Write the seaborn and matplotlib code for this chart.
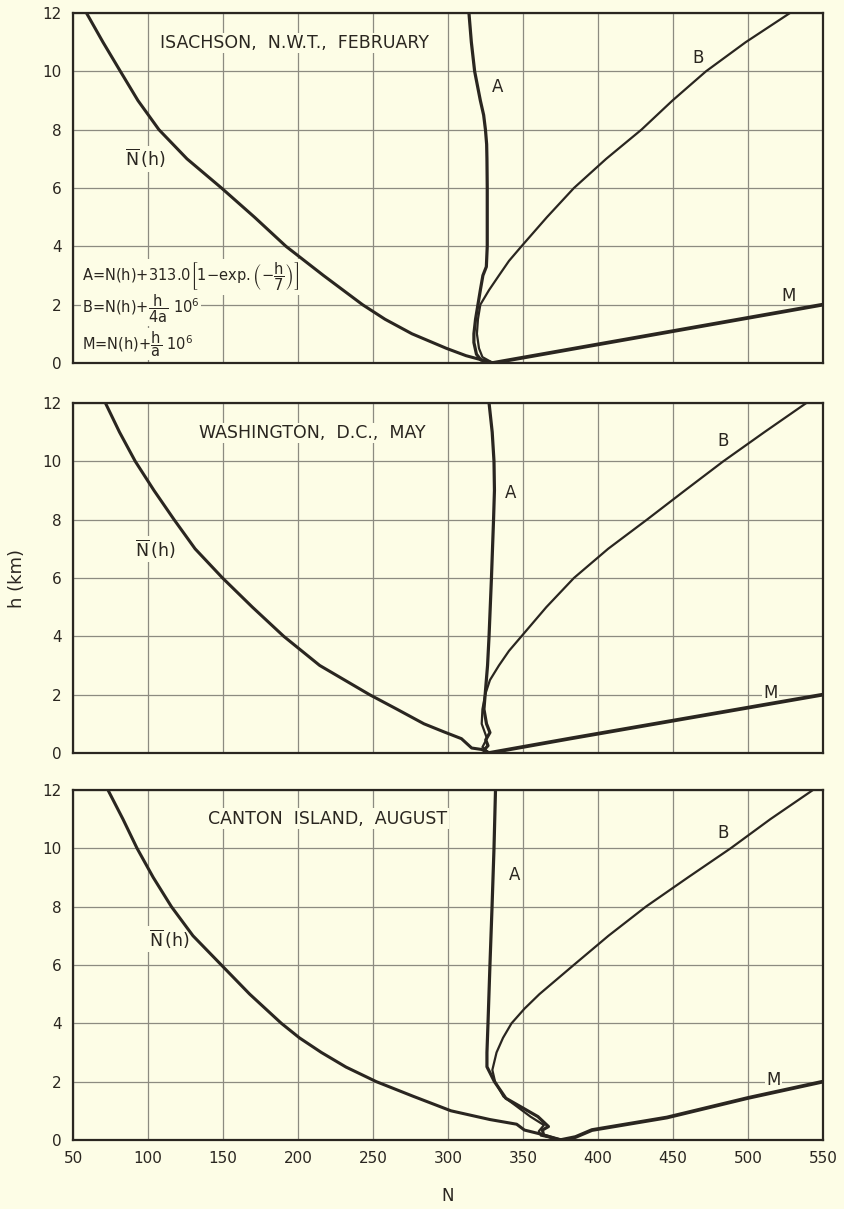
import matplotlib
matplotlib.use("Agg")
import matplotlib.pyplot as plt
import numpy as np
import pandas as pd
import seaborn as sns

# ---- refractivity profiles (N units) against height h (km) ----
# Isachson, N.W.T., February
isa_nbar_h = [0, 0.25, 0.5, 1, 1.5, 2, 3, 4, 5, 6, 7, 8, 9, 10, 11, 12]
isa_nbar_n = [330, 312, 299, 276, 258, 243, 217, 192, 171, 149, 126, 107.3, 93.3, 81.6, 70, 59]
isa_a_h = [0, 0.1, 0.3, 0.7, 1, 1.5, 2, 2.5, 3, 3.3, 4, 6, 7, 7.5, 8, 8.5, 9, 10, 11, 12]
isa_a_n = [330, 322, 319, 317.3, 317.3, 318.4, 320, 321.6, 323.3, 325.6, 326.2, 326.2, 326, 325.8,
           325, 323.8, 321.6, 317.8, 315.6, 314]
isa_b_h = [0, 0.2, 0.5, 1, 1.5, 2, 2.5, 3, 3.5, 4, 5, 6, 7, 8, 9, 10, 11, 12]
isa_b_n = [330, 323, 320.7, 319.3, 320, 321.6, 327.4, 334, 340.7, 349, 366, 384, 405.5, 429,
           449.7, 472, 498.5, 528]
isa_m_h = [0, 0.5, 1, 1.5, 2]
isa_m_n = [330, 385, 440, 495, 550]

# Washington, D.C., May
was_nbar_h = [0, 0.12, 0.17, 0.49, 0.72, 1, 1.5, 2, 3, 4, 5, 6, 7, 8, 9, 10, 11, 12]
was_nbar_n = [327.4, 322.4, 315.8, 309, 297.5, 284, 266, 247.7, 214.5, 190.5, 169.6, 149.7,
              131.4, 117.4, 104, 91.5, 81, 71.6]
was_a_h = [0, 0.1, 0.25, 0.45, 0.7, 1, 1.5, 2, 3, 4, 6, 8, 9, 10, 11, 12]
was_a_n = [327.4, 324, 326.7, 325.2, 328, 325.7, 324, 324.8, 326.4, 327.4, 329, 330.4, 331,
           330.7, 329.5, 327.4]
was_b_h = [0, 0.2, 0.5, 1, 1.5, 2, 2.5, 3, 3.5, 4, 5, 6, 7, 8, 9, 10, 11, 12]
was_b_n = [327.4, 323, 326, 322.5, 323, 324.8, 328, 334, 340.7, 349, 365.6, 384, 406.8, 432.7,
           458, 483.6, 511, 539]
was_m_h = [0, 0.5, 1, 1.5, 2]
was_m_n = [327.4, 382, 438, 494, 550]

# Canton Island, August
can_nbar_h = [0, 0.04, 0.2, 0.34, 0.54, 0.7, 1, 1.5, 2, 2.5, 3, 3.5, 4, 5, 6, 7, 8, 9, 10, 11, 12]
can_nbar_n = [375.5, 372, 362, 351, 345.8, 328, 302, 276.7, 252.2, 232, 215.6, 201, 188.9, 167.8,
              148.9, 130, 115.6, 103.5, 92.7, 83.3, 73.3]
can_a_h = [0, 0.17, 0.34, 0.46, 0.8, 1.43, 2, 2.51, 3, 4, 6, 8, 10, 12]
can_a_n = [375.5, 363.7, 363, 367, 360, 338.6, 331, 326, 326, 326.7, 328, 329.4, 330.7, 331.7]
can_b_h = [0, 0.15, 0.3, 0.51, 0.8, 1.49, 2, 2.4, 3, 3.5, 4, 4.5, 5, 6, 7, 8, 9, 10, 11, 12]
can_b_n = [375.5, 362, 360.6, 364, 355, 337, 331.4, 329.6, 332.4, 336.7, 342.4, 351, 361, 383.9,
           407, 432, 460, 488.5, 515, 543.4]
can_m_h = [0, 0.1, 0.34, 0.77, 1.44, 2.0]
can_m_n = [375.5, 385, 396, 446, 500, 550]

station_titles = ["ISACHSON,  N.W.T.,  FEBRUARY", "WASHINGTON,  D.C.,  MAY", "CANTON  ISLAND,  AUGUST"]
x_ticks = [50, 100, 150, 200, 250, 300, 350, 400, 450, 500, 550]
x_tick_labels = ["50", "100", "150", "200", "250", "300", "350", "400", "450", "500", "550"]
y_ticks = [0, 2, 4, 6, 8, 10, 12]
y_tick_labels = ["0", "2", "4", "6", "8", "10", "12"]

BG = "#fdfde6"
INK = "#2a2620"
GRID = "#8c8b80"

sns.set_theme(style="white")
plt.rcParams["font.family"] = ["DejaVu Sans"]
plt.rcParams["mathtext.fontset"] = "dejavusans"

fig = plt.figure(figsize=(8.44, 12.09), dpi=100, facecolor=BG)
L, R = 0.0865, 0.975
panel_boxes = [(0.6998, 0.9892), (0.3772, 0.6667), (0.0571, 0.3466)]
axes = [fig.add_axes([L, b, R - L, t - b]) for b, t in panel_boxes]


def profile(ax, h, n, lw):
    df = pd.DataFrame({"N": n, "h": h})
    sns.lineplot(data=df, x="N", y="h", sort=False, estimator=None, ax=ax,
                 color=INK, linewidth=lw, solid_capstyle="round", solid_joinstyle="round")


def label(ax, x, y, s, size=12, ha="center", box=True):
    # text sits above the grid but below the profile curves
    kw = dict(ha=ha, va="center", fontsize=size, color=INK, zorder=1.5)
    if box:
        kw["bbox"] = dict(facecolor=BG, edgecolor="none", pad=1.0)
    ax.text(x, y, s, **kw)


panels = [
    (isa_nbar_h, isa_nbar_n, isa_a_h, isa_a_n, isa_b_h, isa_b_n, isa_m_h, isa_m_n),
    (was_nbar_h, was_nbar_n, was_a_h, was_a_n, was_b_h, was_b_n, was_m_h, was_m_n),
    (can_nbar_h, can_nbar_n, can_a_h, can_a_n, can_b_h, can_b_n, can_m_h, can_m_n),
]

# label anchor points (N, h) for each panel
title_pos = [(108, 10.97), (134, 10.97), (140, 11.02)]
a_pos = [(333, 9.45), (342, 8.92), (344.7, 9.07)]
b_pos = [(467, 10.45), (483.6, 10.69), (483.6, 10.54)]
nbar_pos = [(98, 7.0), (105, 6.99), (114, 6.88)]
m_pos = [(527, 2.3), (515, 2.06), (517, 2.06)]

for i, (ax, data) in enumerate(zip(axes, panels)):
    nh, nn, ah, an, bh, bn, mh, mn = data
    ax.set_facecolor(BG)
    ax.set_xlim(50, 550)
    ax.set_ylim(0, 12)
    ax.set_xticks(x_ticks)
    ax.set_yticks(y_ticks)
    ax.set_yticklabels(y_tick_labels)
    ax.grid(True, color=GRID, linewidth=0.9)
    ax.set_axisbelow(True)
    for sp in ax.spines.values():
        sp.set_visible(True)
        sp.set_color(INK)
        sp.set_linewidth(1.6)
    ax.tick_params(axis="both", length=0, labelsize=11, colors=INK, pad=8)
    if i < 2:
        ax.set_xticklabels([])
    else:
        ax.set_xticklabels(x_tick_labels)

    profile(ax, nh, nn, 2.2)
    profile(ax, ah, an, 2.3)
    profile(ax, bh, bn, 1.6)
    profile(ax, mh, mn, 2.7)

    label(ax, title_pos[i][0], title_pos[i][1], station_titles[i], size=12.5, ha="left")
    label(ax, *a_pos[i], "A")
    label(ax, *b_pos[i], "B")
    label(ax, *nbar_pos[i], r"$\overline{\mathrm{N}}\,\mathrm{(h)}$", size=12.5)
    label(ax, *m_pos[i], "M", box=(i > 0))
    ax.set_xlabel("")
    ax.set_ylabel("")

# expressions for the three reduced profiles
ax0 = axes[0]
label(ax0, 56, 2.95,
      r"A=N(h)+313.0$\left[1\mathrm{-exp.}\left(-\dfrac{\mathrm{h}}{7}\right)\right]$",
      size=10.5, ha="left")
label(ax0, 56, 1.86, r"B=N(h)+$\dfrac{\mathrm{h}}{\mathrm{4a}}\ 10^{6}$", size=10.5, ha="left")
label(ax0, 56, 0.65, r"M=N(h)+$\dfrac{\mathrm{h}}{\mathrm{a}}\ 10^{6}$", size=10.5, ha="left")

fig.text(17 / 844, 1 - 578 / 1209, "h (km)", rotation=90, ha="center", va="center",
         fontsize=13, color=INK)
fig.text(448 / 844, 1 - 1196 / 1209, "N", ha="center", va="center", fontsize=12, color=INK)

fig.savefig("out.png", dpi=100, facecolor=BG)
